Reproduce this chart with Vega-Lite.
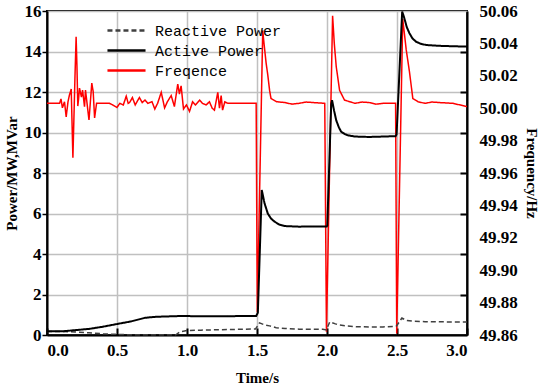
{
  "$schema": "https://vega.github.io/schema/vega-lite/v6.json",
  "autosize": {"type": "none"},
  "width": 420,
  "height": 324,
  "padding": {"left": 47, "top": 11, "right": 83, "bottom": 55},
  "background": "white",
  "datasets": {
    "fq": [
      {"t": 0, "series": "Freqence", "v": 50.003},
      {"t": 0.09, "series": "Freqence", "v": 50.003},
      {"t": 0.10, "series": "Freqence", "v": 50.0057},
      {"t": 0.11, "series": "Freqence", "v": 50.0002},
      {"t": 0.125, "series": "Freqence", "v": 50.004},
      {"t": 0.137, "series": "Freqence", "v": 49.9946},
      {"t": 0.15, "series": "Freqence", "v": 50.004},
      {"t": 0.16, "series": "Freqence", "v": 50.008},
      {"t": 0.173, "series": "Freqence", "v": 50.0118},
      {"t": 0.185, "series": "Freqence", "v": 49.9694},
      {"t": 0.2, "series": "Freqence", "v": 50.02},
      {"t": 0.208, "series": "Freqence", "v": 50.0441},
      {"t": 0.214, "series": "Freqence", "v": 50.0256},
      {"t": 0.22, "series": "Freqence", "v": 50.0013},
      {"t": 0.226, "series": "Freqence", "v": 50.006},
      {"t": 0.232, "series": "Freqence", "v": 50.0124},
      {"t": 0.246, "series": "Freqence", "v": 50.0069},
      {"t": 0.254, "series": "Freqence", "v": 50.0112},
      {"t": 0.268, "series": "Freqence", "v": 50.0009},
      {"t": 0.275, "series": "Freqence", "v": 50.0112},
      {"t": 0.29, "series": "Freqence", "v": 50.0},
      {"t": 0.30, "series": "Freqence", "v": 49.9927},
      {"t": 0.32, "series": "Freqence", "v": 50.0155},
      {"t": 0.33, "series": "Freqence", "v": 50.0101},
      {"t": 0.34, "series": "Freqence", "v": 49.994},
      {"t": 0.354, "series": "Freqence", "v": 50.003},
      {"t": 0.446, "series": "Freqence", "v": 50.003},
      {"t": 0.47, "series": "Freqence", "v": 50.002},
      {"t": 0.50, "series": "Freqence", "v": 50.0005},
      {"t": 0.52, "series": "Freqence", "v": 50.003},
      {"t": 0.545, "series": "Freqence", "v": 50.002},
      {"t": 0.566, "series": "Freqence", "v": 50.0074},
      {"t": 0.58, "series": "Freqence", "v": 50.003},
      {"t": 0.59, "series": "Freqence", "v": 50.0035},
      {"t": 0.61, "series": "Freqence", "v": 50.0066},
      {"t": 0.63, "series": "Freqence", "v": 50.002},
      {"t": 0.66, "series": "Freqence", "v": 50.0066},
      {"t": 0.68, "series": "Freqence", "v": 50.0035},
      {"t": 0.70, "series": "Freqence", "v": 50.005},
      {"t": 0.72, "series": "Freqence", "v": 50.003},
      {"t": 0.75, "series": "Freqence", "v": 50.004},
      {"t": 0.77, "series": "Freqence", "v": 49.9995},
      {"t": 0.79, "series": "Freqence", "v": 50.003},
      {"t": 0.816, "series": "Freqence", "v": 50.0098},
      {"t": 0.84, "series": "Freqence", "v": 50.0002},
      {"t": 0.86, "series": "Freqence", "v": 50.004},
      {"t": 0.887, "series": "Freqence", "v": 50.0078},
      {"t": 0.91, "series": "Freqence", "v": 50.001},
      {"t": 0.934, "series": "Freqence", "v": 50.0149},
      {"t": 0.946, "series": "Freqence", "v": 50.0087},
      {"t": 0.958, "series": "Freqence", "v": 50.0138},
      {"t": 0.975, "series": "Freqence", "v": 49.9995},
      {"t": 0.996, "series": "Freqence", "v": 50.002},
      {"t": 1.018, "series": "Freqence", "v": 49.998},
      {"t": 1.04, "series": "Freqence", "v": 50.004},
      {"t": 1.06, "series": "Freqence", "v": 50.002},
      {"t": 1.09, "series": "Freqence", "v": 50.005},
      {"t": 1.11, "series": "Freqence", "v": 50.003},
      {"t": 1.137, "series": "Freqence", "v": 50.002},
      {"t": 1.16, "series": "Freqence", "v": 50.004},
      {"t": 1.18, "series": "Freqence", "v": 50.0},
      {"t": 1.196, "series": "Freqence", "v": 49.9988},
      {"t": 1.22, "series": "Freqence", "v": 50.0098},
      {"t": 1.232, "series": "Freqence", "v": 50.0},
      {"t": 1.244, "series": "Freqence", "v": 50.0078},
      {"t": 1.254, "series": "Freqence", "v": 49.9988},
      {"t": 1.27, "series": "Freqence", "v": 50.0039},
      {"t": 1.292, "series": "Freqence", "v": 50.003},
      {"t": 1.494, "series": "Freqence", "v": 50.003},
      {"t": 1.502, "series": "Freqence", "v": 49.874},
      {"t": 1.541, "series": "Freqence", "v": 50.048},
      {"t": 1.55, "series": "Freqence", "v": 50.04},
      {"t": 1.565, "series": "Freqence", "v": 50.028},
      {"t": 1.577, "series": "Freqence", "v": 50.0205},
      {"t": 1.59, "series": "Freqence", "v": 50.011},
      {"t": 1.60, "series": "Freqence", "v": 50.006},
      {"t": 1.64, "series": "Freqence", "v": 50.004},
      {"t": 1.7, "series": "Freqence", "v": 50.0035},
      {"t": 1.75, "series": "Freqence", "v": 50.0025},
      {"t": 1.8, "series": "Freqence", "v": 50.003},
      {"t": 1.85, "series": "Freqence", "v": 50.0038},
      {"t": 1.9, "series": "Freqence", "v": 50.0035},
      {"t": 1.984, "series": "Freqence", "v": 50.003},
      {"t": 1.996, "series": "Freqence", "v": 49.862},
      {"t": 2.04, "series": "Freqence", "v": 50.057},
      {"t": 2.052, "series": "Freqence", "v": 50.04},
      {"t": 2.066, "series": "Freqence", "v": 50.0256},
      {"t": 2.09, "series": "Freqence", "v": 50.011},
      {"t": 2.125, "series": "Freqence", "v": 50.005},
      {"t": 2.2, "series": "Freqence", "v": 50.003},
      {"t": 2.25, "series": "Freqence", "v": 50.0038},
      {"t": 2.3, "series": "Freqence", "v": 50.0035},
      {"t": 2.35, "series": "Freqence", "v": 50.0025},
      {"t": 2.4, "series": "Freqence", "v": 50.003},
      {"t": 2.49, "series": "Freqence", "v": 50.003},
      {"t": 2.498, "series": "Freqence", "v": 49.861},
      {"t": 2.541, "series": "Freqence", "v": 50.055},
      {"t": 2.566, "series": "Freqence", "v": 50.036},
      {"t": 2.589, "series": "Freqence", "v": 50.0225},
      {"t": 2.613, "series": "Freqence", "v": 50.006},
      {"t": 2.65, "series": "Freqence", "v": 50.004},
      {"t": 2.7, "series": "Freqence", "v": 50.003},
      {"t": 2.75, "series": "Freqence", "v": 50.0038},
      {"t": 2.8, "series": "Freqence", "v": 50.0035},
      {"t": 2.9, "series": "Freqence", "v": 50.003},
      {"t": 3.0, "series": "Freqence", "v": 50.001}
    ],
    "rp": [
      {"t": 0, "series": "Reactive Power", "v": 0.17},
      {"t": 0.1, "series": "Reactive Power", "v": 0.17},
      {"t": 0.2, "series": "Reactive Power", "v": 0.15},
      {"t": 0.3, "series": "Reactive Power", "v": 0.11},
      {"t": 0.4, "series": "Reactive Power", "v": 0.06},
      {"t": 0.5, "series": "Reactive Power", "v": 0.03},
      {"t": 0.6, "series": "Reactive Power", "v": 0.01},
      {"t": 0.92, "series": "Reactive Power", "v": 0.01},
      {"t": 0.95, "series": "Reactive Power", "v": 0.15},
      {"t": 1.0, "series": "Reactive Power", "v": 0.22},
      {"t": 1.1, "series": "Reactive Power", "v": 0.24},
      {"t": 1.3, "series": "Reactive Power", "v": 0.27},
      {"t": 1.49, "series": "Reactive Power", "v": 0.30},
      {"t": 1.518, "series": "Reactive Power", "v": 0.6},
      {"t": 1.554, "series": "Reactive Power", "v": 0.5},
      {"t": 1.59, "series": "Reactive Power", "v": 0.45},
      {"t": 1.637, "series": "Reactive Power", "v": 0.36},
      {"t": 1.7, "series": "Reactive Power", "v": 0.32},
      {"t": 1.8, "series": "Reactive Power", "v": 0.29},
      {"t": 1.97, "series": "Reactive Power", "v": 0.28},
      {"t": 1.995, "series": "Reactive Power", "v": 0.25},
      {"t": 2.02, "series": "Reactive Power", "v": 0.65},
      {"t": 2.06, "series": "Reactive Power", "v": 0.55},
      {"t": 2.09, "series": "Reactive Power", "v": 0.49},
      {"t": 2.137, "series": "Reactive Power", "v": 0.45},
      {"t": 2.209, "series": "Reactive Power", "v": 0.41},
      {"t": 2.3, "series": "Reactive Power", "v": 0.40},
      {"t": 2.4, "series": "Reactive Power", "v": 0.40},
      {"t": 2.482, "series": "Reactive Power", "v": 0.42},
      {"t": 2.497, "series": "Reactive Power", "v": 0.45},
      {"t": 2.535, "series": "Reactive Power", "v": 0.84},
      {"t": 2.566, "series": "Reactive Power", "v": 0.72},
      {"t": 2.613, "series": "Reactive Power", "v": 0.68},
      {"t": 2.7, "series": "Reactive Power", "v": 0.66},
      {"t": 2.8, "series": "Reactive Power", "v": 0.65},
      {"t": 3.0, "series": "Reactive Power", "v": 0.64}
    ],
    "ap": [
      {"t": 0, "series": "Active Power", "v": 0.18},
      {"t": 0.11, "series": "Active Power", "v": 0.18},
      {"t": 0.2, "series": "Active Power", "v": 0.24},
      {"t": 0.3, "series": "Active Power", "v": 0.30},
      {"t": 0.4, "series": "Active Power", "v": 0.41},
      {"t": 0.49, "series": "Active Power", "v": 0.53},
      {"t": 0.6, "series": "Active Power", "v": 0.67},
      {"t": 0.7, "series": "Active Power", "v": 0.85},
      {"t": 0.78, "series": "Active Power", "v": 0.90},
      {"t": 0.97, "series": "Active Power", "v": 0.94},
      {"t": 1.1, "series": "Active Power", "v": 0.92},
      {"t": 1.3, "series": "Active Power", "v": 0.93},
      {"t": 1.494, "series": "Active Power", "v": 0.94},
      {"t": 1.506, "series": "Active Power", "v": 1.1},
      {"t": 1.534, "series": "Active Power", "v": 7.16},
      {"t": 1.554, "series": "Active Power", "v": 6.5},
      {"t": 1.577, "series": "Active Power", "v": 6.0},
      {"t": 1.6, "series": "Active Power", "v": 5.75},
      {"t": 1.625, "series": "Active Power", "v": 5.6},
      {"t": 1.66, "series": "Active Power", "v": 5.45},
      {"t": 1.7, "series": "Active Power", "v": 5.38},
      {"t": 1.8, "series": "Active Power", "v": 5.35},
      {"t": 1.9, "series": "Active Power", "v": 5.36},
      {"t": 1.998, "series": "Active Power", "v": 5.36},
      {"t": 2.002, "series": "Active Power", "v": 5.4},
      {"t": 2.03, "series": "Active Power", "v": 11.4},
      {"t": 2.036, "series": "Active Power", "v": 11.6},
      {"t": 2.05, "series": "Active Power", "v": 11.1},
      {"t": 2.066, "series": "Active Power", "v": 10.6},
      {"t": 2.085, "series": "Active Power", "v": 10.25},
      {"t": 2.101, "series": "Active Power", "v": 10.04},
      {"t": 2.125, "series": "Active Power", "v": 9.93},
      {"t": 2.149, "series": "Active Power", "v": 9.86},
      {"t": 2.2, "series": "Active Power", "v": 9.8},
      {"t": 2.3, "series": "Active Power", "v": 9.78},
      {"t": 2.4, "series": "Active Power", "v": 9.8},
      {"t": 2.49, "series": "Active Power", "v": 9.82},
      {"t": 2.497, "series": "Active Power", "v": 9.9},
      {"t": 2.537, "series": "Active Power", "v": 15.97},
      {"t": 2.55, "series": "Active Power", "v": 15.7},
      {"t": 2.57, "series": "Active Power", "v": 15.2},
      {"t": 2.589, "series": "Active Power", "v": 14.9},
      {"t": 2.61, "series": "Active Power", "v": 14.65},
      {"t": 2.637, "series": "Active Power", "v": 14.48},
      {"t": 2.67, "series": "Active Power", "v": 14.38},
      {"t": 2.709, "series": "Active Power", "v": 14.32},
      {"t": 2.8, "series": "Active Power", "v": 14.28},
      {"t": 2.9, "series": "Active Power", "v": 14.26},
      {"t": 3.0, "series": "Active Power", "v": 14.24}
    ]
  },
  "config": {
    "view": {"stroke": "black", "strokeWidth": 2},
    "axis": {
      "domainColor": "black", "domainWidth": 2,
      "tickColor": "black", "tickWidth": 1.5,
      "labelFont": "Liberation Serif", "labelFontWeight": "bold", "labelFontSize": 17, "labelColor": "black",
      "titleFont": "Liberation Serif", "titleFontWeight": "bold", "titleFontSize": 15, "titleColor": "black",
      "gridColor": "#c0c0c0", "gridWidth": 1.5, "gridOpacity": 1
    },
    "legend": {
      "orient": "none", "legendX": 72, "legendY": 12,
      "symbolType": "M-5,0H5", "symbolSize": 58, "symbolStrokeWidth": 2.5,
      "labelFont": "Liberation Mono", "labelFontSize": 15, "labelColor": "black",
      "labelOffset": 21, "rowPadding": 4, "padding": 0, "title": null
    }
  },
  "resolve": {"scale": {"y": "independent"}, "axis": {"y": "independent"}},
  "layer": [
    {
      "data": {"name": "fq"},
      "mark": {"type": "line", "strokeWidth": 1.5},
      "encoding": {
        "x": {"field": "t", "type": "quantitative", "scale": {"domain": [0, 3], "nice": false},
          "axis": {"values": [0, 0.5, 1, 1.5, 2, 2.5, 3], "format": ".1f", "title": "Time/s", "grid": true, "tickSize": -7, "tickWidth": 2, "labelPadding": 14, "titlePadding": 12}},
        "y": {"field": "v", "type": "quantitative", "scale": {"domain": [49.86, 50.06], "nice": false, "zero": false},
          "axis": {"orient": "right", "values": [49.86, 49.88, 49.9, 49.92, 49.94, 49.96, 49.98, 50.0, 50.02, 50.04, 50.06], "format": ".2f", "ticks": false, "grid": false, "labelPadding": 12, "title": "Frequency/Hz", "titlePadding": 6}},
        "color": {"field": "series", "type": "nominal", "scale": {"domain": ["Reactive Power", "Active Power", "Freqence"], "range": ["#404040", "#000000", "#ff0000"]},
          "legend": {"labelFont": "Liberation Mono", "labelFontSize": 15, "symbolType": "M-5,0H5", "symbolSize": 58, "symbolStrokeWidth": 2.5, "labelOffset": 21}},
        "strokeDash": {"field": "series", "type": "nominal", "scale": {"domain": ["Reactive Power", "Active Power", "Freqence"], "range": [[5, 3], [1, 0], [1, 0]]}}
      }
    },
    {
      "data": {"name": "rp"},
      "mark": {"type": "line", "strokeWidth": 1.5},
      "encoding": {
        "x": {"field": "t", "type": "quantitative", "scale": {"domain": [0, 3], "nice": false}},
        "y": {"field": "v", "type": "quantitative", "scale": {"domain": [0, 16], "nice": false},
          "axis": {"orient": "left", "offset": -420, "values": [2, 4, 6, 8, 10, 12, 14], "labels": false, "domain": false, "grid": false, "ticks": true, "tickSize": 7, "tickWidth": 2, "tickColor": "black", "title": null}},
        "color": {"field": "series", "type": "nominal"},
        "strokeDash": {"field": "series", "type": "nominal"}
      }
    },
    {
      "data": {"name": "ap"},
      "mark": {"type": "line", "strokeWidth": 2},
      "encoding": {
        "x": {"field": "t", "type": "quantitative", "scale": {"domain": [0, 3], "nice": false}},
        "y": {"field": "v", "type": "quantitative", "scale": {"domain": [0, 16], "nice": false},
          "axis": {"orient": "left", "values": [0, 2, 4, 6, 8, 10, 12, 14, 16], "grid": true, "tickSize": 5, "labelPadding": 1, "title": "Power/MW,MVar", "titlePadding": 5}},
        "color": {"field": "series", "type": "nominal"},
        "strokeDash": {"field": "series", "type": "nominal"}
      }
    }
  ]
}
